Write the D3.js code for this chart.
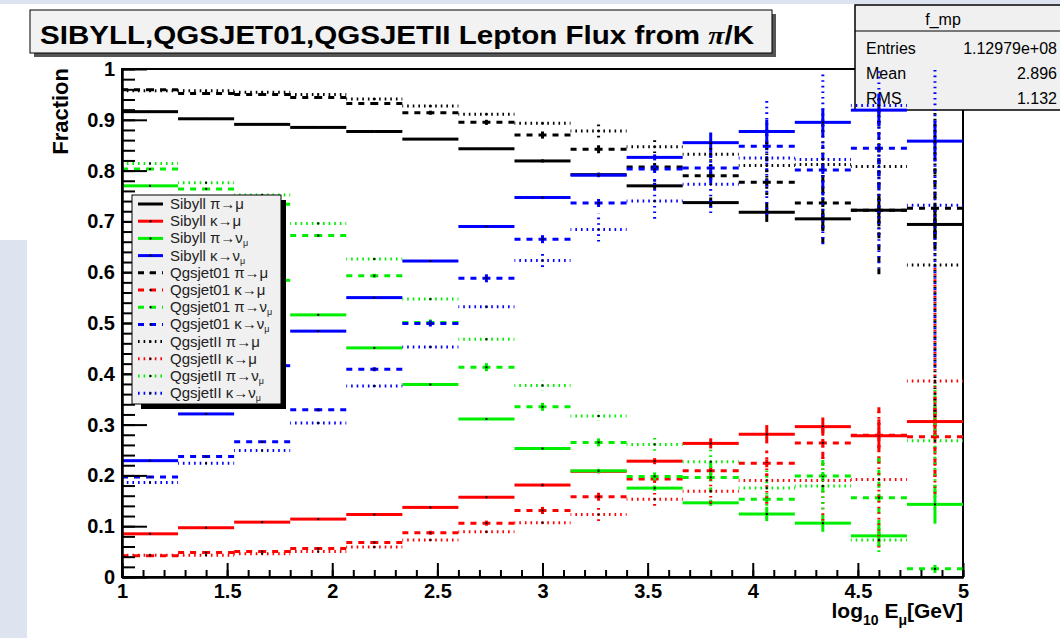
<!DOCTYPE html>
<html><head><meta charset="utf-8">
<script src="https://cdn.jsdelivr.net/npm/d3@7"></script>
<style>
body{margin:0;background:#fff}
svg{display:block}
text{font-family:"Liberation Sans",Arial,Helvetica,sans-serif}
</style>
</head><body>
<svg id="c" width="1060" height="638"></svg>
<script>
// Histogram binning: 15 bins in log10(E) between 1 and 5
const xMin = 1, xMax = 5, nBins = 15;

// Axis ticks
const xTickValues = [1, 1.5, 2, 2.5, 3, 3.5, 4, 4.5, 5];
const xTickLabels = ["1", "1.5", "2", "2.5", "3", "3.5", "4", "4.5", "5"];
const yTickValues = [0, 0.1, 0.2, 0.3, 0.4, 0.5, 0.6, 0.7, 0.8, 0.9, 1];
const yTickLabels = ["0", "0.1", "0.2", "0.3", "0.4", "0.5", "0.6", "0.7", "0.8", "0.9", "1"];

// Sibyll fractions
const sibyllPiMu = [0.916,0.902,0.891,0.885,0.877,0.862,0.843,0.819,0.792,0.770,0.737,0.718,0.705,0.722,0.694];
const sibyllKMu  = [0.085,0.097,0.108,0.114,0.123,0.137,0.157,0.181,0.208,0.228,0.263,0.281,0.296,0.278,0.306];
const sibyllPiNu = [0.770,0.679,0.584,0.516,0.451,0.379,0.311,0.253,0.209,0.175,0.146,0.124,0.106,0.081,0.143];
const sibyllKNu  = [0.229,0.321,0.416,0.484,0.550,0.622,0.690,0.747,0.791,0.826,0.855,0.877,0.895,0.919,0.858];
const sibyllPiMuErr = [0.001,0.001,0.001,0.001,0.001,0.002,0.002,0.003,0.004,0.006,0.010,0.019,0.020,0.025,0.030];
const sibyllKMuErr  = [0.001,0.001,0.001,0.001,0.001,0.002,0.002,0.003,0.004,0.006,0.010,0.018,0.018,0.025,0.030];
const sibyllPiNuErr = [0.001,0.001,0.001,0.001,0.001,0.002,0.002,0.003,0.004,0.005,0.006,0.014,0.017,0.021,0.038];
const sibyllKNuErr  = [0.001,0.001,0.001,0.001,0.001,0.002,0.002,0.003,0.004,0.006,0.020,0.023,0.027,0.030,0.040];

// Qgsjet01 fractions (last κ→ν_μ bin is empty)
const qgs01PiMu = [0.959,0.952,0.950,0.944,0.932,0.914,0.895,0.870,0.842,0.807,0.790,0.777,0.736,0.722,0.726];
const qgs01KMu  = [0.042,0.048,0.050,0.056,0.068,0.087,0.106,0.131,0.158,0.193,0.209,0.224,0.264,0.279,0.276];
const qgs01PiNu = [0.803,0.764,0.734,0.672,0.593,0.501,0.413,0.335,0.265,0.198,0.196,0.153,0.199,0.156,0.016];
const qgs01KNu  = [0.197,0.237,0.266,0.329,0.409,0.499,0.588,0.665,0.736,0.803,0.805,0.848,0.801,0.844,null];
const qgs01PiMuErr = [0.001,0.001,0.001,0.002,0.003,0.004,0.005,0.007,0.010,0.015,0.020,0.025,0.080,0.133,0.080];
const qgs01KMuErr  = [0.001,0.001,0.001,0.002,0.003,0.004,0.005,0.007,0.010,0.015,0.020,0.025,0.040,0.060,0.080];
const qgs01PiNuErr = [0.001,0.001,0.002,0.003,0.004,0.006,0.008,0.010,0.010,0.013,0.030,0.020,0.040,0.080,0.010];
const qgs01KNuErr  = [0.001,0.001,0.002,0.003,0.004,0.006,0.008,0.010,0.020,0.025,0.030,0.030,0.050,0.080,0];

// QgsjetII fractions
const qgs2PiMu = [0.957,0.957,0.954,0.950,0.941,0.927,0.911,0.893,0.878,0.847,0.832,0.810,0.812,0.808,0.614];
const qgs2KMu  = [0.043,0.043,0.046,0.050,0.059,0.073,0.089,0.107,0.123,0.153,0.169,0.190,0.190,0.192,0.386];
const qgs2PiNu = [0.814,0.776,0.752,0.696,0.626,0.547,0.468,0.377,0.317,0.261,0.227,0.175,0.179,0.073,0.268];
const qgs2KNu  = [0.186,0.224,0.249,0.303,0.376,0.453,0.532,0.623,0.684,0.740,0.773,0.825,0.822,0.928,0.732];
const qgs2PiMuErr = [0.001,0.001,0.002,0.002,0.003,0.004,0.006,0.008,0.013,0.013,0.030,0.050,0.080,0.140,0.300];
const qgs2KMuErr  = [0.001,0.001,0.002,0.002,0.003,0.004,0.006,0.008,0.013,0.013,0.030,0.050,0.080,0.140,0.230];
const qgs2PiNuErr = [0.001,0.002,0.002,0.003,0.004,0.006,0.008,0.010,0.010,0.015,0.030,0.040,0.050,0.030,0.110];
const qgs2KNuErr  = [0.001,0.002,0.002,0.003,0.004,0.006,0.008,0.015,0.025,0.037,0.060,0.120,0.175,0.320,0.320];

const seriesColors = ["#000000", "#ff0000", "#00ee00", "#0000ff"];
const channelLabels = [["π→μ", ""], ["κ→μ", ""], ["π→ν", "μ"], ["κ→ν", "μ"]];
const modelNames = ["Sibyll", "Qgsjet01", "QgsjetII"];
const modelStyles = ["solid", "dashed", "dotted"];

const modelValues = [
  [sibyllPiMu, sibyllKMu, sibyllPiNu, sibyllKNu],
  [qgs01PiMu, qgs01KMu, qgs01PiNu, qgs01KNu],
  [qgs2PiMu, qgs2KMu, qgs2PiNu, qgs2KNu]
];
const modelErrors = [
  [sibyllPiMuErr, sibyllKMuErr, sibyllPiNuErr, sibyllKNuErr],
  [qgs01PiMuErr, qgs01KMuErr, qgs01PiNuErr, qgs01KNuErr],
  [qgs2PiMuErr, qgs2KMuErr, qgs2PiNuErr, qgs2KNuErr]
];

const series = [];
modelNames.forEach((m, mi) => {
  channelLabels.forEach((c, ci) => {
    series.push({
      model: m, label: c, color: seriesColors[ci], style: modelStyles[mi],
      values: modelValues[mi][ci], errors: modelErrors[mi][ci]
    });
  });
});

const dashFor = {
  solid: {arr: null, off: 0},
  dashed: {arr: "6,6", off: 2},
  dotted: {arr: "1.6,4", off: 0.8}
};

const svg = d3.select("#c");
const W = 1060, H = 638;
const frame = {l: 122, r: 963, t: 69, b: 577};

const x = d3.scaleLinear().domain([xMin, xMax]).range([frame.l, frame.r]);
const y = d3.scaleLinear().domain([0, 1]).range([frame.b, frame.t]);
const binW = (xMax - xMin) / nBins;

// window surroundings
svg.append("rect").attr("x", 0).attr("y", 0).attr("width", W).attr("height", H).attr("fill", "#fff");
svg.append("rect").attr("x", 0).attr("y", 0).attr("width", W).attr("height", 4).attr("fill", "#dde4ef");
svg.append("rect").attr("x", 0).attr("y", 240).attr("width", 27).attr("height", H - 240).attr("fill", "#dde4ef");

// frame
svg.append("rect").attr("x", frame.l).attr("y", frame.t)
  .attr("width", frame.r - frame.l).attr("height", frame.b - frame.t)
  .attr("fill", "#fff").attr("stroke", "#000").attr("stroke-width", 2);

// stats box (histograms drawn afterwards overlap it)
const stats = svg.append("g");
stats.append("rect").attr("x", 855).attr("y", 5).attr("width", 215).attr("height", 105)
  .attr("fill", "#f0f0f0").attr("stroke", "#000").attr("stroke-width", 1.5);
stats.append("line").attr("x1", 855).attr("x2", 1060).attr("y1", 31).attr("y2", 31).attr("stroke", "#000").attr("stroke-width", 1);
stats.append("text").attr("x", 943).attr("y", 25).attr("text-anchor", "middle").attr("font-size", 16).text("f_mp");
const statRows = [["Entries", "1.12979e+08"], ["Mean", "2.896"], ["RMS", "1.132"]];
statRows.forEach((r, i) => {
  stats.append("text").attr("x", 866).attr("y", 54 + i * 25).attr("font-size", 16).text(r[0]);
  stats.append("text").attr("x", 1057).attr("y", 54 + i * 25).attr("font-size", 16).attr("text-anchor", "end").text(r[1]);
});

// histograms
svg.append("clipPath").attr("id", "fc").append("rect")
  .attr("x", frame.l).attr("y", frame.t).attr("width", frame.r - frame.l).attr("height", frame.b - frame.t);
const plot = svg.append("g").attr("clip-path", "url(#fc)");

series.forEach(s => {
  const g = plot.append("g");
  const d = dashFor[s.style];
  const segs = [];
  const pts = [];
  s.values.forEach((v, i) => {
    if (v === null) return;
    const lo = xMin + i * binW, hi = lo + binW, c = lo + binW / 2;
    pts.push([x(c), y(v)]);
    segs.push([[x(c), y(v)], [x(lo), y(v)]]);
    segs.push([[x(c), y(v)], [x(hi), y(v)]]);
    const e = s.errors[i];
    if (y(v) - y(v + e) > 1.5) {
      segs.push([[x(c), y(v)], [x(c), y(v + e)]]);
      segs.push([[x(c), y(v)], [x(c), y(v - e)]]);
    }
  });
  g.selectAll("line").data(segs).join("line")
    .attr("x1", p => p[0][0]).attr("y1", p => p[0][1])
    .attr("x2", p => p[1][0]).attr("y2", p => p[1][1])
    .attr("stroke", s.color).attr("stroke-width", 3)
    .attr("stroke-dasharray", d.arr).attr("stroke-dashoffset", d.off);
  g.selectAll("rect").data(pts).join("rect")
    .attr("x", p => p[0] - 1).attr("y", p => p[1] - 1)
    .attr("width", 2).attr("height", 2).attr("fill", "#000");
});

// axes
const xAxis = d3.axisBottom(x).tickValues(xTickValues).tickFormat((d, i) => xTickLabels[i])
  .tickSize(-14).tickSizeOuter(0).tickPadding(7);
const xMinor = d3.axisBottom(x).tickValues(d3.range(10, 51).map(v => v / 10)).tickFormat("")
  .tickSize(-7).tickSizeOuter(0);
const yAxis = d3.axisLeft(y).tickValues(yTickValues).tickFormat((d, i) => yTickLabels[i])
  .tickSize(-25).tickSizeOuter(0).tickPadding(7);
const yMinor = d3.axisLeft(y).tickValues(d3.range(0, 51).map(v => v / 50)).tickFormat("")
  .tickSize(-13).tickSizeOuter(0);

function styleAxis(g) {
  g.select(".domain").attr("stroke", "#000").attr("stroke-width", 2);
  g.selectAll(".tick line").attr("stroke", "#000").attr("stroke-width", 2);
  g.selectAll(".tick text").attr("fill", "#000").attr("font-size", 20).attr("font-weight", "bold")
    .attr("font-family", "'Liberation Sans',Arial,sans-serif");
}
svg.append("g").attr("transform", `translate(0,${frame.b})`).call(xMinor).call(styleAxis);
svg.append("g").attr("transform", `translate(0,${frame.b})`).call(xAxis).call(styleAxis);
svg.append("g").attr("transform", `translate(${frame.l},0)`).call(yMinor).call(styleAxis);
svg.append("g").attr("transform", `translate(${frame.l},0)`).call(yAxis).call(styleAxis);

// axis titles
const xt = svg.append("text").attr("x", frame.r).attr("y", 618).attr("text-anchor", "end")
  .attr("font-size", 21).attr("font-weight", "bold");
xt.append("tspan").text("log");
xt.append("tspan").attr("font-size", 14).attr("dy", 7).text("10");
xt.append("tspan").attr("dy", -7).text(" E");
xt.append("tspan").attr("font-size", 14).attr("dy", 7).text("μ");
xt.append("tspan").attr("dy", -7).text("[GeV]");

svg.append("text").attr("transform", "translate(68,68) rotate(-90)").attr("text-anchor", "end")
  .attr("font-size", 22).attr("font-weight", "bold").text("Fraction");

// title box
svg.append("rect").attr("x", 34).attr("y", 14).attr("width", 742).attr("height", 43).attr("fill", "#555");
svg.append("rect").attr("x", 30).attr("y", 10).attr("width", 742).attr("height", 43)
  .attr("fill", "#f2f2f2").attr("stroke", "#000").attr("stroke-width", 1);
const title = svg.append("text").attr("x", 40).attr("y", 44).attr("font-size", 26).attr("font-weight", "bold")
  .attr("textLength", 714).attr("lengthAdjust", "spacingAndGlyphs");
title.append("tspan").text("SIBYLL,QGSJET01,QGSJETII Lepton Flux from ");
title.append("tspan").attr("font-style", "italic").attr("font-family", "'Liberation Serif',serif").text("π");
title.append("tspan").text("/K");

// legend
const lg = svg.append("g");
lg.append("rect").attr("x", 141).attr("y", 200).attr("width", 145).attr("height", 209).attr("fill", "#000");
lg.append("rect").attr("x", 132).attr("y", 195).attr("width", 149).attr("height", 209)
  .attr("fill", "#f0f0f0").attr("stroke", "#000").attr("stroke-width", 1);
series.forEach((s, i) => {
  const yy = 204 + i * 17.2;
  const d = dashFor[s.style];
  lg.append("line").attr("x1", 138).attr("x2", 163).attr("y1", yy).attr("y2", yy)
    .attr("stroke", s.color).attr("stroke-width", 3).attr("stroke-dasharray", d.arr);
  lg.append("rect").attr("x", 149.5).attr("y", yy - 1).attr("width", 2).attr("height", 2).attr("fill", "#000");
  const t = lg.append("text").attr("x", 170).attr("y", yy + 5).attr("font-size", 15).attr("fill", "#222");
  t.append("tspan").text(s.model + " " + s.label[0]);
  if (s.label[1]) t.append("tspan").attr("font-size", 9).attr("dy", 3).text(s.label[1]);
});
</script>
</body></html>
